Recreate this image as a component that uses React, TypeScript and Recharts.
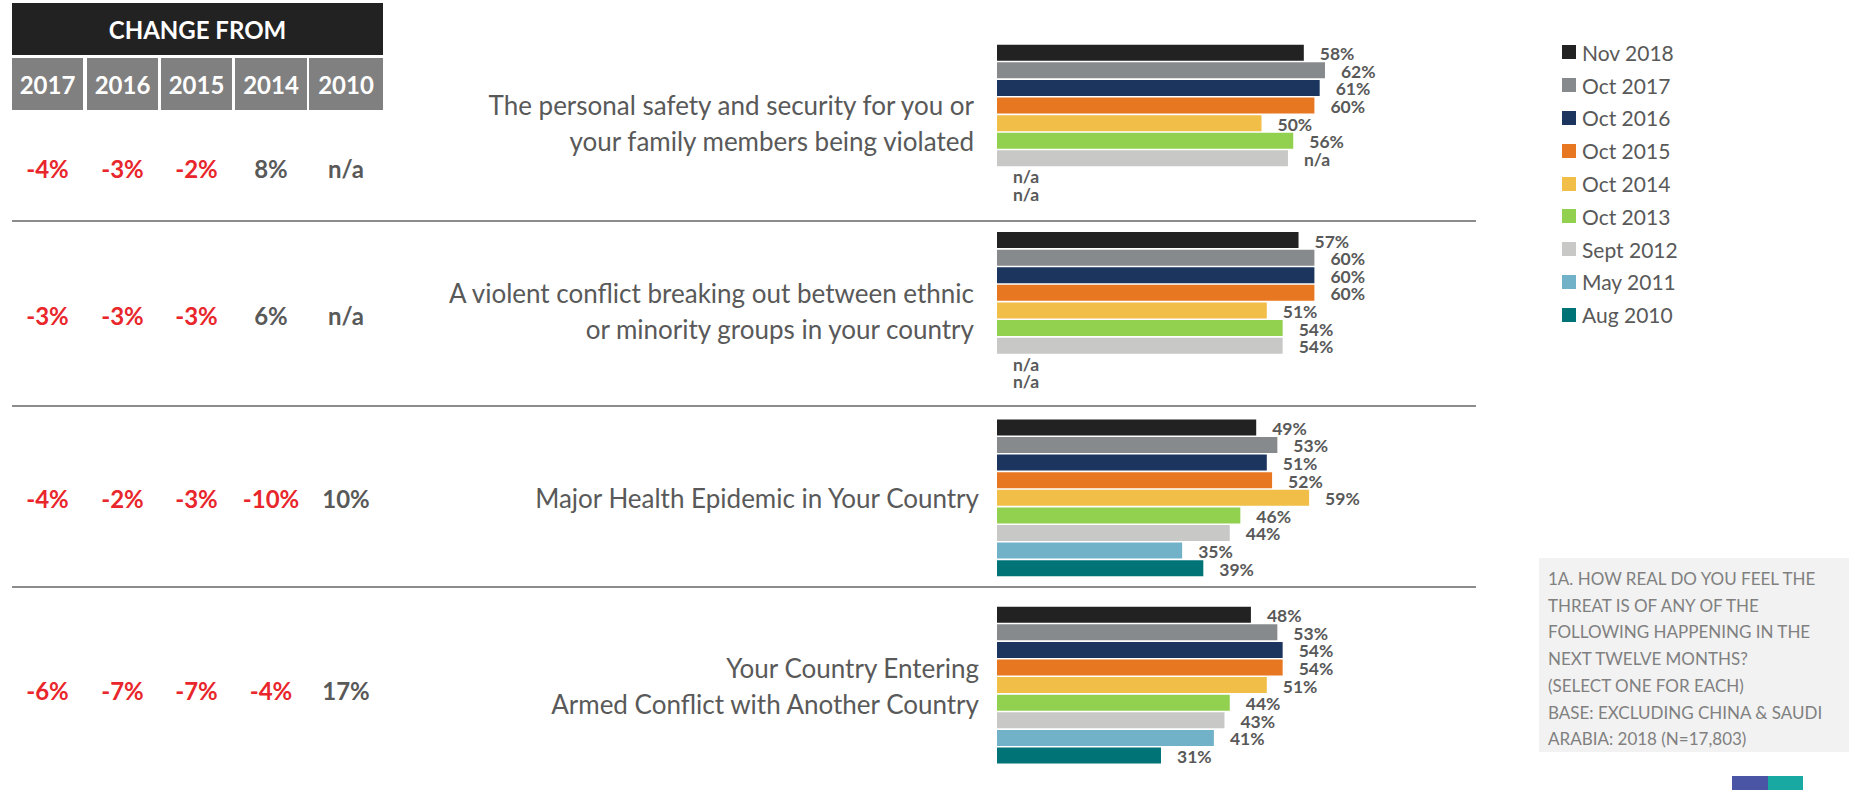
import { BarChart, Bar, XAxis, YAxis, LabelList, Legend } from 'recharts'

const FONT = 'Lato, "Open Sans", sans-serif'
const TEXT = '#595959'
const RED = '#e8262b'

// four threat questions (one bar group each)
const topics = ['safety', 'ethnic', 'health', 'armed']
const questions = [
  ['The personal safety and security for you or', 'your family members being violated'],
  ['A violent conflict breaking out between ethnic', 'or minority groups in your country'],
  ['Major Health Epidemic in Your Country'],
  ['Your Country Entering', 'Armed Conflict with Another Country'],
]

// survey waves, % saying threat is real
const nov2018 = [58, 57, 49, 48]
const oct2017 = [62, 60, 53, 53]
const oct2016 = [61, 60, 51, 54]
const oct2015 = [60, 60, 52, 54]
const oct2014 = [50, 51, 59, 51]
const oct2013 = [56, 54, 46, 44]
const sept2012 = [55, 54, 44, 43]
const sept2012Labels = ['n/a', '54%', '44%', '43%']
const may2011 = [null, null, 35, 41]
const aug2010 = [null, null, 39, 31]

// change-from table
const changeYears = ['2017', '2016', '2015', '2014', '2010']
const changes = [
  ['-4%', '-3%', '-2%', '8%', 'n/a'],
  ['-3%', '-3%', '-3%', '6%', 'n/a'],
  ['-4%', '-2%', '-3%', '-10%', '10%'],
  ['-6%', '-7%', '-7%', '-4%', '17%'],
]

const noteLines = [
  '1A. HOW REAL DO YOU FEEL THE',
  'THREAT IS OF ANY OF THE',
  'FOLLOWING HAPPENING IN THE',
  'NEXT TWELVE MONTHS?',
  '(SELECT ONE FOR EACH)',
  'BASE: EXCLUDING CHINA & SAUDI',
  'ARABIA: 2018 (N=17,803)',
]

const series: { name: string; values: (number | null)[]; color: string; labels?: string[] }[] = [
  { name: 'Nov 2018', values: nov2018, color: '#222222' },
  { name: 'Oct 2017', values: oct2017, color: '#878a8c' },
  { name: 'Oct 2016', values: oct2016, color: '#1c355e' },
  { name: 'Oct 2015', values: oct2015, color: '#e87722' },
  { name: 'Oct 2014', values: oct2014, color: '#f1be48' },
  { name: 'Oct 2013', values: oct2013, color: '#92d050' },
  { name: 'Sept 2012', values: sept2012, color: '#c8c8c6', labels: sept2012Labels },
  { name: 'May 2011', values: may2011, color: '#71b2c9' },
  { name: 'Aug 2010', values: aug2010, color: '#007377' },
]

const data = topics.map((t, i) => {
  const row: Record<string, any> = { topic: t }
  series.forEach((s, k) => {
    const v = s.values[i]
    row[`s${k}`] = v
    row[`l${k}`] = s.labels ? s.labels[i] : v == null ? 'n/a' : `${v}%`
  })
  return row
})

const BAR = 16
const GAP = 1.6
const LABEL_SIZE = 17.5

const labelText = (x: number, y: number, text: string, key?: string) => (
  <text key={key} x={x} y={y} dominantBaseline="central" fontSize={LABEL_SIZE} fontWeight={700}
        fill={TEXT} fontFamily={FONT}>{text}</text>
)

const renderLabel = (p: any) => {
  const { x, y, width, height, value } = p
  if (x == null || !width) return null
  return labelText(x + width + 16, y + height / 2 + 1, value)
}

// waves with no data: "n/a" printed at the zero line, in each missing bar's slot
const renderMissing = (p: any) => {
  const { x, y, index } = p
  return (
    <g>
      {series.map((s, k) => s.values[index] == null
        ? labelText(x + 16, y + k * (BAR + GAP) + BAR / 2 + 1, 'n/a', s.name)
        : null)}
    </g>
  )
}

const renderLegend = (p: any) => (
  <div style={{ fontFamily: FONT }}>
    {(p.payload || []).map((e: any) => (
      <div key={e.value} style={{ display: 'flex', alignItems: 'center', height: 32.8 }}>
        <span style={{ width: 14, height: 14, background: e.color, marginRight: 6 }} />
        <span style={{ fontSize: 21, color: TEXT }}>{e.value}</span>
      </div>
    ))}
  </div>
)

const colX = [12, 87, 161, 235, 309]
const colW = [71, 71, 71, 72, 74]
const groupY = [123, 311, 498, 686]
const textRight = [974, 974, 979, 979]
const changeY = [168, 315, 498, 690]
const sepY = [220, 405, 586]

export default function App() {
  return (
    <div style={{ position: 'absolute', left: 0, top: 0, width: 1849, height: 790, background: '#fff', fontFamily: FONT, overflow: 'hidden' }}>
      <BarChart width={1849} height={790} data={data} layout="vertical"
                margin={{ top: 29.75, bottom: 11, left: 997, right: 73 }}
                barSize={BAR} barGap={GAP}>
        <XAxis type="number" domain={[0, 100]} hide />
        <YAxis type="category" dataKey="topic" hide />
        <Legend content={renderLegend} layout="vertical" align="right" verticalAlign="top" itemSorter="dataKey"
                wrapperStyle={{ left: 1562, top: 36, width: 250 }} />
        {series.map((s, k) => (
          <Bar key={s.name} name={s.name} dataKey={`s${k}`} fill={s.color} isAnimationActive={false}>
            <LabelList dataKey={`l${k}`} content={renderLabel} />
            {k === 0 && <LabelList dataKey="topic" content={renderMissing} />}
          </Bar>
        ))}
      </BarChart>

      {/* Change-from table header */}
      <div style={{ position: 'absolute', left: 12, top: 3, width: 371, height: 52, background: '#222222',
                    color: '#fff', fontWeight: 700, fontSize: 24, display: 'flex', alignItems: 'center', justifyContent: 'center' }}>
        CHANGE FROM
      </div>
      {changeYears.map((y, i) => (
        <div key={y} style={{ position: 'absolute', left: colX[i], top: 58, width: colW[i], height: 52, background: '#808080',
                              color: '#fff', fontWeight: 700, fontSize: 24, display: 'flex', alignItems: 'center', justifyContent: 'center' }}>
          {y}
        </div>
      ))}
      {changes.map((row, r) => row.map((c, i) => (
        <div key={`${r}-${i}`} style={{ position: 'absolute', left: colX[i], top: changeY[r] - 15, width: colW[i], height: 30,
                                         color: c.startsWith('-') ? RED : TEXT, fontWeight: 700, fontSize: 24,
                                         display: 'flex', alignItems: 'center', justifyContent: 'center' }}>
          {c}
        </div>
      )))}

      {/* Question labels */}
      {questions.map((q, i) => (
        <div key={i} style={{ position: 'absolute', right: 1849 - textRight[i], top: groupY[i], transform: 'translateY(-50%)',
                              textAlign: 'right', fontSize: 26, lineHeight: '36px', color: TEXT, whiteSpace: 'nowrap' }}>
          {q.map(l => <div key={l}>{l}</div>)}
        </div>
      ))}

      {/* Separators */}
      {sepY.map(y => (
        <div key={y} style={{ position: 'absolute', left: 12, top: y, width: 1464, height: 2, background: '#8c8c8c' }} />
      ))}

      {/* Question note */}
      <div style={{ position: 'absolute', left: 1539, top: 558, width: 310, height: 194, background: '#f2f2f2',
                    padding: '8px 0 0 9px', boxSizing: 'border-box', color: '#808080', fontSize: 17, lineHeight: '26.7px' }}>
        {noteLines.map(l => <div key={l} style={{ whiteSpace: 'nowrap' }}>{l}</div>)}
      </div>

      {/* logo corner */}
      <div style={{ position: 'absolute', left: 1732, top: 776, width: 36, height: 14, background: '#4b55a5' }} />
      <div style={{ position: 'absolute', left: 1768, top: 776, width: 35, height: 14, background: '#19a9a3' }} />
    </div>
  )
}
